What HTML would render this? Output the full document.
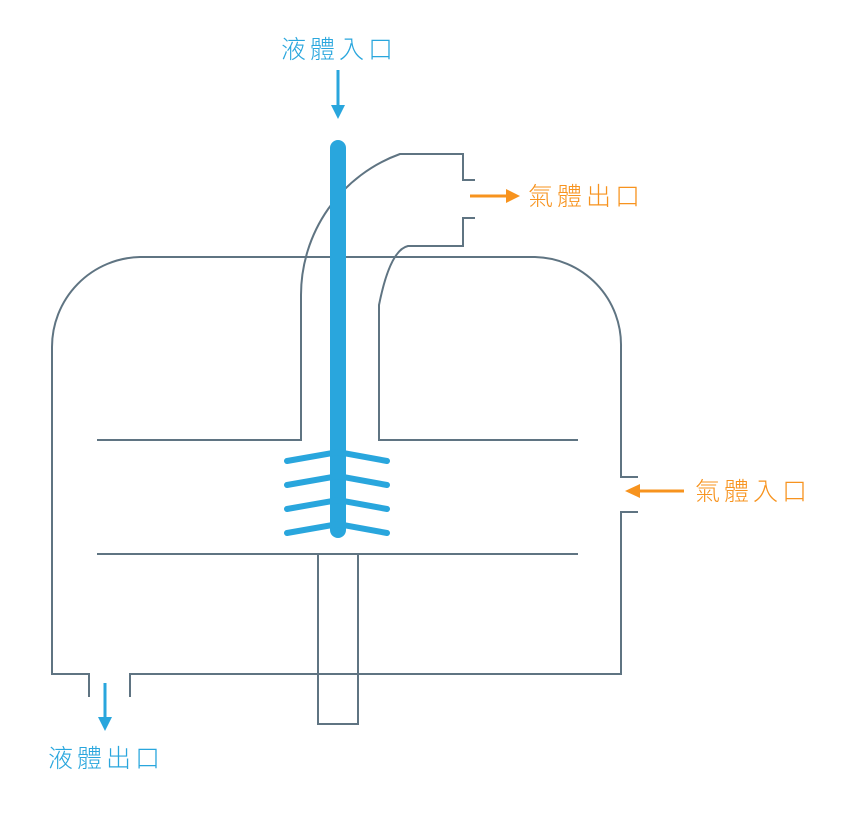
<!DOCTYPE html>
<html><head><meta charset="utf-8"><style>
html,body{margin:0;padding:0;background:#fff;}
svg{display:block}
text{font-family:"Liberation Sans","Noto Sans CJK TC",sans-serif;font-size:25px;letter-spacing:4px;font-weight:300}
</style></head><body>
<svg width="841" height="820" viewBox="0 0 841 820" xmlns="http://www.w3.org/2000/svg">
<g fill="none" stroke="#5f7482" stroke-width="2">
<path d="M89,697 V674 H52 V347 A90,90 0 0 1 140,257 H535 A88,88 0 0 1 621,347 V477 H638 M638,512 H621 V674 H130 V697"/>
<path d="M97,440 H301 V295 A150,150 0 0 1 400,154 H463 V180 H475"/>
<path d="M578,440 H379 V305 Q390,250 408,246 H463 V218 H475"/>
<path d="M97,554 H578"/>
<rect x="318" y="554" width="40" height="170"/>
</g>
<g stroke="#29a6dd" stroke-linecap="round" fill="none">
<line x1="338" y1="148" x2="338" y2="530" stroke-width="16"/>
<g stroke-width="6">
<path d="M287,461 L338,452 L387,461"/>
<path d="M287,485 L338,476 L387,485"/>
<path d="M287,509 L338,500 L387,509"/>
<path d="M287,533 L338,524 L387,533"/>
</g>
</g>
<g stroke="#29a6dd" stroke-width="3">
<line x1="338" y1="70" x2="338" y2="106"/>
<line x1="105" y1="683" x2="105" y2="718"/>
</g>
<g fill="#29a6dd">
<polygon points="331,105 345,105 338,119"/>
<polygon points="98,717 112,717 105,731"/>
</g>
<g stroke="#f7931e" stroke-width="3">
<line x1="470" y1="196" x2="508" y2="196"/>
<line x1="684" y1="491" x2="638" y2="491"/>
</g>
<g fill="#f7931e">
<polygon points="506,189 506,203 520,196"/>
<polygon points="640,484 640,498 625,491"/>
</g>
<text x="281" y="58" fill="#29a6dd">液體入口</text>
<text x="48" y="767" fill="#29a6dd">液體出口</text>
<text x="528" y="205" fill="#f7931e">氣體出口</text>
<text x="695" y="500" fill="#f7931e">氣體入口</text>
</svg>
</body></html>
